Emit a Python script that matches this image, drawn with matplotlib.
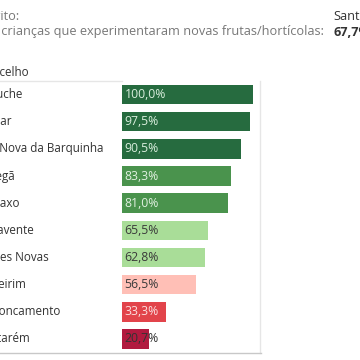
import matplotlib
matplotlib.use("Agg")
import matplotlib.pyplot as plt
from matplotlib.lines import Line2D

plt.rcParams['font.family'] = ['Open Sans', 'DejaVu Sans']

concelhos = ["Coruche", "Tomar", "Vila Nova da Barquinha", "Golegã", "Cartaxo",
             "Benavente", "Torres Novas", "Almeirim", "Entroncamento", "Santarém"]
valores = [100.0, 97.5, 90.5, 83.3, 81.0, 65.5, 62.8, 56.5, 33.3, 20.7]
cores = ["#266b3f", "#266b3f", "#266b3f", "#4a934d", "#4a934d",
         "#a9dd98", "#a9dd98", "#ffbfb6", "#e2444b", "#b11a3f"]
cores_texto = ["#d9eedd", "#d9eedd", "#d9eedd", "#e0f0e0", "#e0f0e0",
               "#3a3a3a", "#3a3a3a", "#3a3a3a", "#fbe0e0", "#333333"]
distrito = "Santarém"
media = "67,7%"

W = H = 360
fig = plt.figure(figsize=(3.6, 3.6), dpi=100)

def fx(px):
    return px / W

def fy(py):
    return 1 - py / H

# header
hs = 9.2
fig.text(fx(-27), fy(17), "Distrito:", color="#777777", fontsize=hs, va="center", ha="left")
fig.text(fx(-31), fy(32), "% de crianças que experimentaram novas frutas/hortícolas:",
         color="#777777", fontsize=hs, va="center", ha="left")
fig.text(fx(333), fy(17), distrito, color="#333333", fontsize=hs, va="center", ha="left")
fig.text(fx(333), fy(32), media, color="#333333", fontsize=hs, va="center", ha="left",
         fontweight="bold")
fig.text(fx(-22), fy(73), "Concelho", color="#333333", fontsize=8.4, va="center", ha="left",
         fontweight="medium")

# separator lines
fig.add_artist(Line2D([0, fx(122)], [fy(81), fy(81)], color="#e6e6e6", lw=1))
fig.add_artist(Line2D([0, fx(260.5)], [fy(352.5), fy(352.5)], color="#c8c8c8", lw=1))

left_px, right_px = 122.3, 260.5
top_px, bot_px = 81, 352.5
ax = fig.add_axes([fx(left_px), fy(bot_px), (right_px - left_px) / W, (bot_px - top_px) / H])
full = 131.0
ax.set_xlim(0, 100 * (right_px - left_px) / full)
n = len(valores)
ax.set_ylim(n - 0.5, -0.5)
ax.barh(range(n), valores, height=0.72, color=cores, edgecolor="none")
for i, (v, c) in enumerate(zip(valores, cores_texto)):
    ax.text(1.8, i, f"{v:.1f}%".replace(".", ","), color=c, fontsize=8.8, va="center", ha="left")
ax.set_xticks([])
ax.set_yticks([])
for s in ["top", "left", "bottom"]:
    ax.spines[s].set_visible(False)
ax.spines["right"].set_color("#e6e6e6")
ax.spines["right"].set_linewidth(1)

# row labels
for i, name in enumerate(concelhos):
    y_px = top_px + (i + 0.5) * (bot_px - top_px) / n
    fig.text(fx(-23), fy(y_px), name, color="#333333", fontsize=8.4, va="center", ha="left")

fig.savefig("out.png", dpi=100)
